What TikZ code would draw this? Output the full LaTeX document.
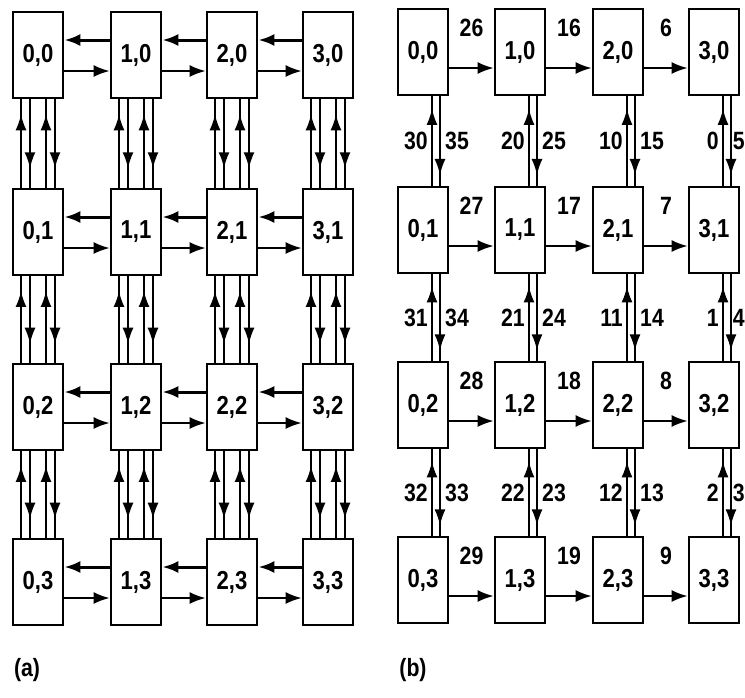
\documentclass[tikz,border=0pt]{standalone}
\usepackage{fontspec}
\setmainfont{Liberation Sans}[FakeStretch=0.85]
\usetikzlibrary{arrows.meta,decorations.markings,calc}
\tikzset{
  box/.style={draw, line width=2.6pt, minimum width=50pt, minimum height=86pt,
    inner sep=0pt, fill=white, font=\fontsize{26}{28}\selectfont\bfseries},
  harrow/.style={line width=2.2pt, -{Latex[length=16pt,width=12pt]}},
  hbold/.style={line width=3pt, -{Latex[length=16pt,width=12pt]}},
  varrow/.style={line width=1.8pt, postaction=decorate,
    decoration={markings, mark=at position #1 with {\arrow{Latex[length=16pt,width=11pt]}}}},
  lab/.style={font=\fontsize{25}{27}\selectfont\bfseries, inner sep=1pt},
}
\begin{document}
\begin{tikzpicture}[x=1pt,y=-1pt]
\useasboundingbox (0,0) rectangle (745,697);
\clip (0,0) rectangle (745,697);
% ---------- panel (a) ----------
\foreach \c/\x in {0/38,1/136,2/232,3/328}{
  \foreach \r/\y in {0/55,1/232,2/407,3/582}{
    \node[box] (a\c\r) at (\x,\y) {\c,\r};
  }
}
\foreach \r in {0,1,2,3}{
  \foreach \c in {0,1,2}{
    \pgfmathtruncatemacro\cn{\c+1}
    \draw[hbold] ([yshift=15pt]a\cn\r.west) -- ([yshift=15pt]a\c\r.east);
    \draw[harrow] ([yshift=-16pt]a\c\r.east) -- ([yshift=-16pt]a\cn\r.west);
  }
}
\foreach \c in {0,1,2,3}{
  \foreach \r in {0,1,2}{
    \pgfmathtruncatemacro\rn{\r+1}
    \draw[varrow=0.83] ([xshift=-17pt]a\c\rn.north) -- ([xshift=-17pt]a\c\r.south);
    \draw[varrow=0.78] ([xshift=-8pt]a\c\r.south) -- ([xshift=-8pt]a\c\rn.north);
    \draw[varrow=0.83] ([xshift=8pt]a\c\rn.north) -- ([xshift=8pt]a\c\r.south);
    \draw[varrow=0.78] ([xshift=17pt]a\c\r.south) -- ([xshift=17pt]a\c\rn.north);
  }
}
% ---------- panel (b) ----------
\foreach \c/\x in {0/423,1/520,2/618,3/714}{
  \foreach \r/\y in {0/52,1/230,2/405,3/580}{
    \node[box] (b\c\r) at (\x,\y) {\c,\r};
  }
}
\foreach \r in {0,1,2,3}{
  \foreach \c in {0,1,2}{
    \pgfmathtruncatemacro\cn{\c+1}
    \pgfmathtruncatemacro\hl{10*(2-\c)+6+\r}
    \draw[harrow] ([yshift=-16pt]b\c\r.east) -- ([yshift=-16pt]b\cn\r.west);
    \node[lab] (hl\c\r) at ($(b\c\r.east)!0.5!(b\cn\r.west)+(0,-24)$) {\hl};
  }
}
\foreach \c in {0,1,2,3}{
  \foreach \r in {0,1,2}{
    \pgfmathtruncatemacro\rn{\r+1}
    \pgfmathtruncatemacro\up{10*(3-\c)+\r}
    \pgfmathtruncatemacro\dn{10*(3-\c)+5-\r}
    \draw[varrow=0.86] ([xshift=9pt]b\c\rn.north) -- ([xshift=9pt]b\c\r.south);
    \draw[varrow=0.88] ([xshift=17pt]b\c\r.south) -- ([xshift=17pt]b\c\rn.north);
    \coordinate (m\c\r) at ($(b\c\r.south)!0.5!(b\c\rn.north)$);
    \node[lab, anchor=east] (ul\c\r) at ($(m\c\r)+(6,0)$) {\up};
    \ifnum\c=3
      \node[lab, anchor=east, inner sep=0pt] (dl\c\r) at (745,0 |- m\c\r) {\dn};
    \else
      \node[lab, anchor=west] (dl\c\r) at ($(m\c\r)+(21,0)$) {\dn};
    \fi
  }
}
% ---------- captions ----------
\node[lab] (capa) at (27,670) {(a)};
\node[lab] (capb) at (413,670) {(b)};
\end{tikzpicture}
\end{document}
